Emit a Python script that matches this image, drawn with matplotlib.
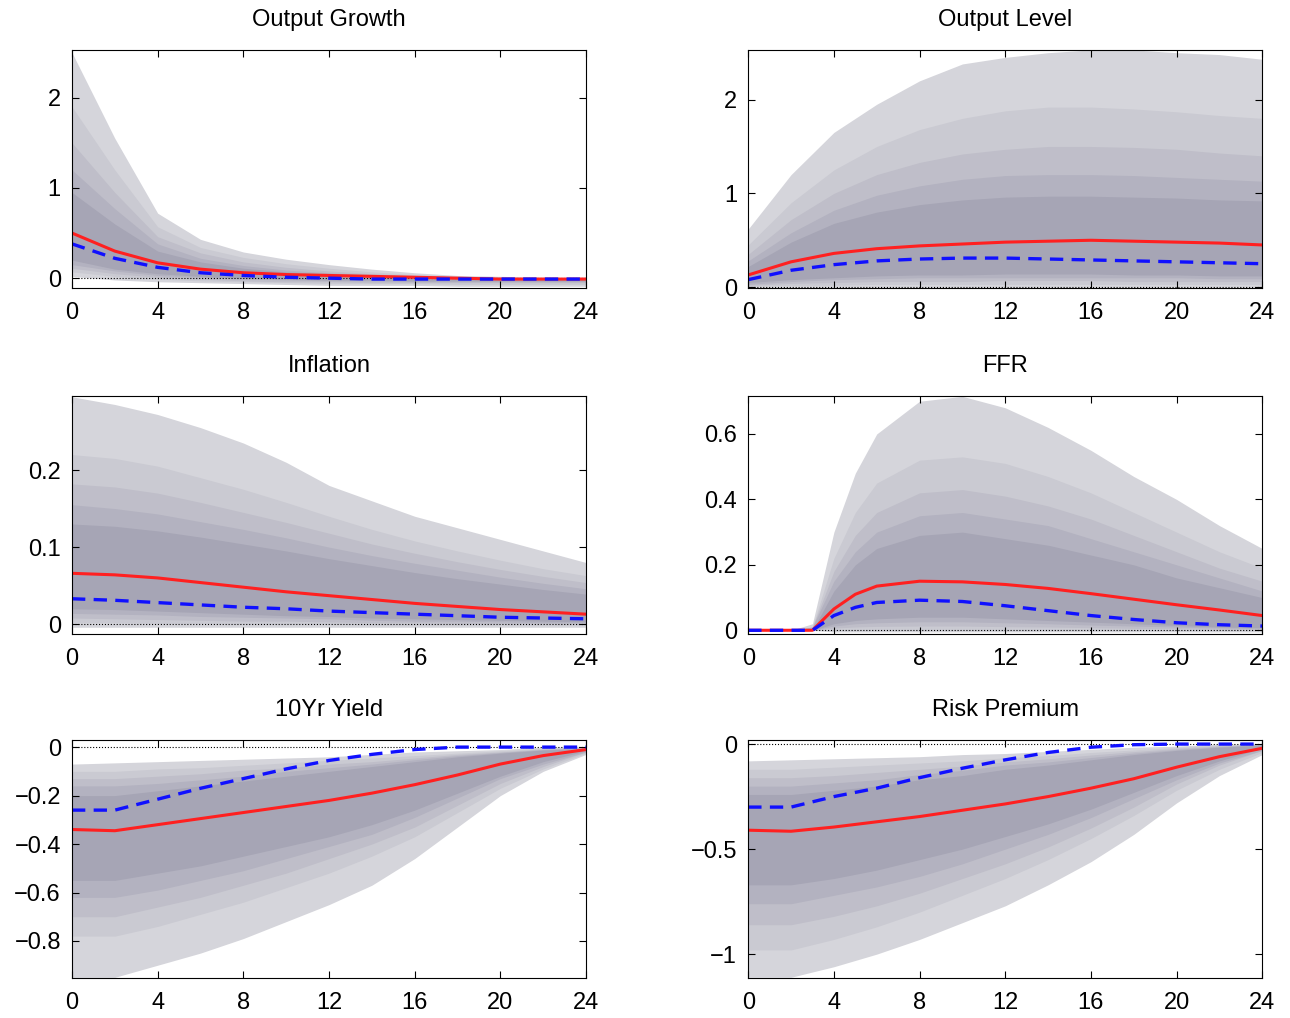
import numpy as np
import matplotlib
matplotlib.use("Agg")
import matplotlib.pyplot as plt

plt.rcParams['font.family'] = ['Liberation Sans', 'DejaVu Sans']
plt.rcParams['axes.unicode_minus'] = True

# horizons (quarters)
h_std = [0, 2, 4, 6, 8, 10, 12, 14, 16, 18, 20, 22, 24]
h_ffr = [0, 1, 2, 3, 4, 5, 6, 8, 10, 12, 14, 16, 18, 20, 22, 24]

# ---- Output Growth ----
og_median = [0.5, 0.3, 0.17, 0.1, 0.06, 0.04, 0.03, 0.02, 0.01, 0.0, -0.01, -0.01, -0.01]
og_alt = [0.38, 0.22, 0.12, 0.06, 0.03, 0.01, 0.0, -0.01, -0.01, -0.01, -0.01, -0.01, -0.01]
og_upper = [
    [2.5, 1.55, 0.72, 0.43, 0.29, 0.21, 0.15, 0.1, 0.06, 0.03, 0.02, 0.01, 0.0],
    [1.9, 1.2, 0.57, 0.34, 0.23, 0.16, 0.11, 0.07, 0.04, 0.02, 0.01, 0.0, 0.0],
    [1.5, 0.95, 0.46, 0.28, 0.18, 0.12, 0.08, 0.05, 0.03, 0.01, 0.0, 0.0, -0.01],
    [1.2, 0.77, 0.38, 0.22, 0.14, 0.09, 0.06, 0.04, 0.02, 0.01, 0.0, -0.01, -0.01],
    [0.95, 0.6, 0.3, 0.18, 0.11, 0.07, 0.05, 0.03, 0.01, 0.0, -0.01, -0.01, -0.01],
]
og_lower = [
    [0.02, -0.02, -0.04, -0.05, -0.06, -0.07, -0.08, -0.08, -0.08, -0.09, -0.09, -0.09, -0.09],
    [0.07, 0.02, -0.01, -0.03, -0.04, -0.05, -0.06, -0.06, -0.06, -0.07, -0.07, -0.07, -0.07],
    [0.11, 0.05, 0.01, -0.01, -0.03, -0.04, -0.04, -0.05, -0.05, -0.05, -0.05, -0.05, -0.05],
    [0.15, 0.08, 0.03, 0.01, -0.01, -0.02, -0.03, -0.03, -0.04, -0.04, -0.04, -0.04, -0.04],
    [0.2, 0.1, 0.05, 0.02, 0.0, -0.01, -0.02, -0.02, -0.03, -0.03, -0.03, -0.03, -0.03],
]

# ---- Output Level ----
ol_median = [0.13, 0.27, 0.36, 0.41, 0.44, 0.46, 0.48, 0.49, 0.5, 0.49, 0.48, 0.47, 0.45]
ol_alt = [0.08, 0.18, 0.24, 0.28, 0.3, 0.31, 0.31, 0.3, 0.29, 0.28, 0.27, 0.26, 0.25]
ol_upper = [
    [0.62, 1.2, 1.65, 1.95, 2.2, 2.38, 2.45, 2.5, 2.53, 2.53, 2.5, 2.48, 2.43],
    [0.45, 0.9, 1.25, 1.5, 1.68, 1.8, 1.88, 1.92, 1.92, 1.9, 1.87, 1.83, 1.8],
    [0.35, 0.72, 1.0, 1.2, 1.33, 1.42, 1.47, 1.5, 1.5, 1.49, 1.47, 1.43, 1.4],
    [0.28, 0.58, 0.82, 0.98, 1.08, 1.15, 1.19, 1.2, 1.2, 1.19, 1.17, 1.15, 1.13],
    [0.22, 0.48, 0.68, 0.8, 0.88, 0.93, 0.96, 0.97, 0.97, 0.96, 0.95, 0.93, 0.92],
]
ol_lower = [
    [0.0, 0.0, 0.0, 0.0, 0.0, 0.0, 0.0, 0.0, 0.0, 0.0, 0.0, 0.0, 0.0],
    [0.01, 0.02, 0.02, 0.03, 0.03, 0.03, 0.03, 0.03, 0.03, 0.03, 0.03, 0.03, 0.03],
    [0.02, 0.04, 0.05, 0.06, 0.06, 0.06, 0.07, 0.07, 0.07, 0.06, 0.06, 0.06, 0.06],
    [0.03, 0.06, 0.08, 0.09, 0.1, 0.1, 0.1, 0.1, 0.1, 0.1, 0.1, 0.09, 0.09],
    [0.05, 0.08, 0.1, 0.12, 0.13, 0.13, 0.14, 0.14, 0.14, 0.13, 0.13, 0.12, 0.12],
]

# ---- Inflation ----
inf_median = [0.066, 0.064, 0.06, 0.054, 0.048, 0.042, 0.037, 0.032, 0.027, 0.023, 0.019, 0.016, 0.013]
inf_alt = [0.033, 0.031, 0.028, 0.025, 0.022, 0.02, 0.017, 0.015, 0.013, 0.011, 0.009, 0.008, 0.007]
inf_upper = [
    [0.295, 0.285, 0.272, 0.255, 0.235, 0.21, 0.18, 0.16, 0.14, 0.125, 0.11, 0.095, 0.08],
    [0.22, 0.215, 0.205, 0.19, 0.175, 0.158, 0.14, 0.123, 0.108, 0.095, 0.083, 0.072, 0.063],
    [0.182, 0.178, 0.17, 0.158, 0.145, 0.132, 0.118, 0.104, 0.092, 0.081, 0.071, 0.062, 0.054],
    [0.155, 0.15, 0.143, 0.133, 0.123, 0.112, 0.1, 0.089, 0.079, 0.07, 0.061, 0.053, 0.046],
    [0.13, 0.127, 0.121, 0.113, 0.104, 0.095, 0.085, 0.076, 0.067, 0.059, 0.052, 0.045, 0.039],
]
inf_lower = [
    [-0.004, -0.004, -0.004, -0.004, -0.004, -0.004, -0.004, -0.004, -0.004, -0.004, -0.004, -0.004, -0.004],
    [0.002, 0.002, 0.001, 0.001, 0.0, 0.0, 0.0, -0.001, -0.001, -0.001, -0.001, -0.001, -0.001],
    [0.008, 0.007, 0.006, 0.005, 0.004, 0.004, 0.003, 0.002, 0.002, 0.001, 0.001, 0.001, 0.0],
    [0.014, 0.013, 0.012, 0.01, 0.009, 0.008, 0.007, 0.005, 0.004, 0.004, 0.003, 0.002, 0.002],
    [0.02, 0.019, 0.017, 0.015, 0.013, 0.011, 0.01, 0.008, 0.007, 0.006, 0.005, 0.004, 0.003],
]

# ---- FFR ----
ffr_median = [0, 0, 0, 0, 0.065, 0.11, 0.135, 0.15, 0.148, 0.14, 0.128, 0.112, 0.095, 0.078, 0.062, 0.045]
ffr_alt = [0, 0, 0, 0, 0.045, 0.07, 0.085, 0.092, 0.088, 0.075, 0.06, 0.045, 0.033, 0.023, 0.017, 0.013]
ffr_upper = [
    [0, 0, 0, 0.02, 0.3, 0.48, 0.6, 0.7, 0.715, 0.68, 0.62, 0.55, 0.47, 0.4, 0.32, 0.25],
    [0, 0, 0, 0.01, 0.22, 0.36, 0.45, 0.52, 0.53, 0.51, 0.47, 0.42, 0.36, 0.3, 0.24, 0.19],
    [0, 0, 0, 0.01, 0.18, 0.29, 0.36, 0.42, 0.43, 0.41, 0.38, 0.34, 0.29, 0.24, 0.19, 0.15],
    [0, 0, 0, 0.01, 0.15, 0.24, 0.3, 0.35, 0.36, 0.34, 0.32, 0.28, 0.24, 0.2, 0.16, 0.12],
    [0, 0, 0, 0, 0.12, 0.2, 0.25, 0.29, 0.3, 0.28, 0.26, 0.23, 0.2, 0.16, 0.13, 0.1],
]
ffr_lower = [
    [0, 0, 0, 0, -0.005, -0.005, -0.005, -0.005, -0.005, -0.005, -0.005, -0.005, -0.005, -0.005, -0.005, -0.005],
    [0, 0, 0, 0, 0.0, 0.0, 0.0, 0.0, 0.0, 0.0, 0.0, 0.0, 0.0, 0.0, 0.0, 0.0],
    [0, 0, 0, 0, 0.007, 0.01, 0.012, 0.013, 0.013, 0.011, 0.01, 0.008, 0.006, 0.005, 0.003, 0.002],
    [0, 0, 0, 0, 0.013, 0.02, 0.023, 0.026, 0.026, 0.023, 0.02, 0.016, 0.013, 0.01, 0.007, 0.005],
    [0, 0, 0, 0, 0.02, 0.03, 0.035, 0.04, 0.04, 0.035, 0.03, 0.025, 0.02, 0.015, 0.01, 0.008],
]

# ---- 10Yr Yield ----
ty_median = [-0.34, -0.345, -0.32, -0.295, -0.27, -0.245, -0.22, -0.19, -0.155, -0.115, -0.07, -0.035, -0.01]
ty_alt = [-0.26, -0.26, -0.215, -0.17, -0.13, -0.09, -0.055, -0.03, -0.01, 0.0, 0.0, 0.0, 0.0]
ty_lower = [
    [-0.95, -0.95, -0.9, -0.85, -0.79, -0.72, -0.65, -0.57, -0.46, -0.33, -0.2, -0.1, -0.03],
    [-0.78, -0.78, -0.74, -0.69, -0.64, -0.58, -0.52, -0.45, -0.37, -0.27, -0.17, -0.09, -0.025],
    [-0.7, -0.7, -0.66, -0.62, -0.57, -0.52, -0.46, -0.4, -0.33, -0.24, -0.15, -0.08, -0.02],
    [-0.62, -0.62, -0.59, -0.55, -0.51, -0.46, -0.41, -0.36, -0.29, -0.21, -0.13, -0.07, -0.02],
    [-0.55, -0.55, -0.52, -0.49, -0.45, -0.41, -0.37, -0.32, -0.26, -0.19, -0.12, -0.06, -0.015],
]
ty_upper = [
    [-0.07, -0.065, -0.06, -0.055, -0.05, -0.045, -0.04, -0.03, -0.02, -0.015, -0.01, 0.0, 0.0],
    [-0.1, -0.1, -0.09, -0.085, -0.075, -0.065, -0.055, -0.045, -0.035, -0.025, -0.015, -0.005, 0.0],
    [-0.13, -0.13, -0.12, -0.11, -0.095, -0.085, -0.07, -0.06, -0.045, -0.03, -0.02, -0.008, -0.002],
    [-0.16, -0.16, -0.15, -0.135, -0.12, -0.1, -0.085, -0.07, -0.052, -0.035, -0.022, -0.01, -0.003],
    [-0.2, -0.2, -0.18, -0.16, -0.14, -0.12, -0.1, -0.08, -0.06, -0.04, -0.025, -0.012, -0.005],
]

# ---- Risk Premium ----
rp_median = [-0.41, -0.415, -0.395, -0.37, -0.345, -0.315, -0.285, -0.25, -0.21, -0.165, -0.11, -0.06, -0.02]
rp_alt = [-0.3, -0.3, -0.25, -0.21, -0.16, -0.115, -0.075, -0.04, -0.015, -0.003, 0.0, 0.0, 0.0]
rp_lower = [
    [-1.11, -1.11, -1.06, -1.0, -0.93, -0.85, -0.77, -0.67, -0.56, -0.43, -0.28, -0.15, -0.05],
    [-0.98, -0.98, -0.93, -0.87, -0.8, -0.72, -0.64, -0.55, -0.45, -0.34, -0.22, -0.12, -0.04],
    [-0.86, -0.86, -0.82, -0.77, -0.71, -0.64, -0.57, -0.49, -0.4, -0.3, -0.19, -0.1, -0.03],
    [-0.76, -0.76, -0.72, -0.68, -0.63, -0.57, -0.5, -0.43, -0.35, -0.26, -0.17, -0.09, -0.03],
    [-0.67, -0.67, -0.64, -0.6, -0.55, -0.5, -0.44, -0.38, -0.31, -0.23, -0.15, -0.08, -0.02],
]
rp_upper = [
    [-0.08, -0.075, -0.07, -0.065, -0.06, -0.05, -0.045, -0.035, -0.025, -0.015, -0.01, 0.0, 0.0],
    [-0.12, -0.12, -0.11, -0.1, -0.09, -0.08, -0.065, -0.055, -0.04, -0.028, -0.016, -0.006, 0.0],
    [-0.16, -0.16, -0.15, -0.135, -0.12, -0.105, -0.085, -0.07, -0.052, -0.036, -0.021, -0.009, -0.002],
    [-0.2, -0.2, -0.185, -0.17, -0.145, -0.125, -0.1, -0.085, -0.064, -0.043, -0.026, -0.012, -0.003],
    [-0.24, -0.24, -0.22, -0.2, -0.17, -0.15, -0.12, -0.1, -0.075, -0.05, -0.03, -0.015, -0.005],
]

band_colors = ['#d5d5db', '#cacad2', '#bfbec9', '#b3b2c0', '#a6a5b5']

panels = [
    ("Output Growth", h_std, og_lower, og_upper, og_median, og_alt, (-0.11, 2.53), [0, 1, 2], ['0', '1', '2']),
    ("Output Level", h_std, ol_lower, ol_upper, ol_median, ol_alt, (-0.01, 2.53), [0, 1, 2], ['0', '1', '2']),
    ("Inflation", h_std, inf_lower, inf_upper, inf_median, inf_alt, (-0.013, 0.296), [0, 0.1, 0.2], ['0', '0.1', '0.2']),
    ("FFR", h_ffr, ffr_lower, ffr_upper, ffr_median, ffr_alt, (-0.012, 0.716), [0, 0.2, 0.4, 0.6], ['0', '0.2', '0.4', '0.6']),
    ("10Yr Yield", h_std, ty_lower, ty_upper, ty_median, ty_alt, (-0.954, 0.029),
     [-0.8, -0.6, -0.4, -0.2, 0], ['\u22120.8', '\u22120.6', '\u22120.4', '\u22120.2', '0']),
    ("Risk Premium", h_std, rp_lower, rp_upper, rp_median, rp_alt, (-1.115, 0.019),
     [-1, -0.5, 0], ['\u22121', '\u22120.5', '0']),
]

fig = plt.figure(figsize=(12.9, 10.18), dpi=100)
lefts = [0.0558, 0.58]
bottoms = [0.717, 0.377, 0.039]

for i, (title, h, lows, ups, med, alt, ylim, yt, ytl) in enumerate(panels):
    ax = fig.add_axes([lefts[i % 2], bottoms[i // 2], 0.3985, 0.234])
    for lo, up, c in zip(lows, ups, band_colors):
        ax.fill_between(h, lo, up, color=c, linewidth=0)
    ax.plot([0, 24], [0, 0], color='black', linestyle=':', linewidth=0.8)
    ax.plot(h, med, color='#ff2020', linewidth=2.2)
    ax.plot(h, alt, color='#1010ff', linewidth=2.4, linestyle=(0, (4, 2.5)))
    ax.set_xlim(0, 24)
    ax.set_ylim(*ylim)
    ax.set_xticks(range(0, 25, 4))
    ax.set_yticks(yt)
    ax.set_yticklabels(ytl)
    ax.tick_params(direction='in', top=True, right=True, labelsize=17, length=5)
    ax.tick_params(axis='x', pad=10)
    ax.tick_params(axis='y', pad=8)
    ax.set_title(title, fontsize=17, pad=17)

fig.savefig("out.png", dpi=100)
